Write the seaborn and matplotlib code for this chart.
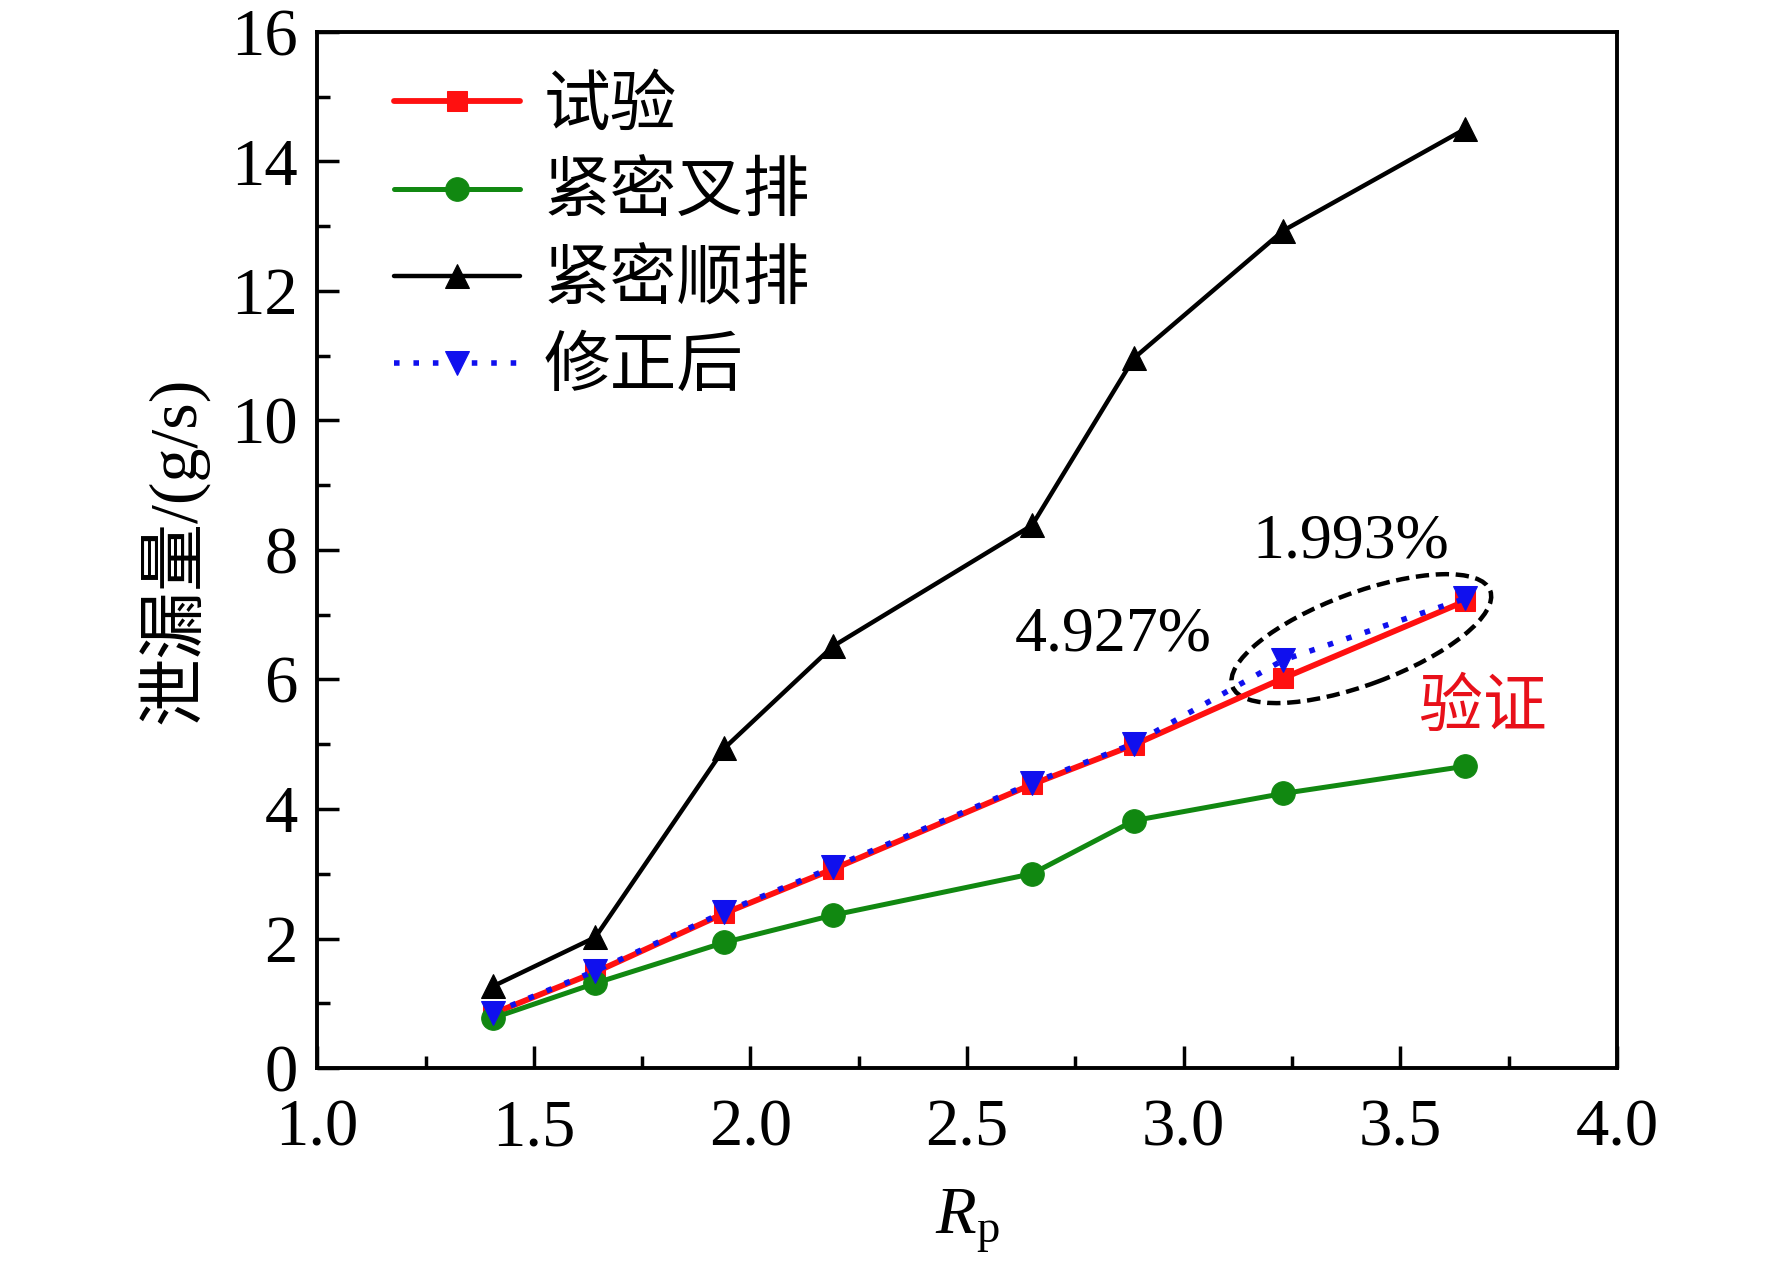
import numpy as np
import pandas as pd
import matplotlib
matplotlib.use('Agg')
import matplotlib.pyplot as plt
import seaborn as sns
from matplotlib.patches import Ellipse
from matplotlib.transforms import ScaledTranslation
from matplotlib.ticker import MultipleLocator

# dados
rp = [1.405, 1.642, 1.94, 2.19, 2.65, 2.885, 3.23, 3.65]
shiyan = [0.84, 1.48, 2.39, 3.07, 4.38, 4.99, 6.02, 7.21]        # 试验
chapai = [0.77, 1.31, 1.94, 2.36, 3.00, 3.82, 4.24, 4.66]        # 紧密叉排
shunpai = [1.26, 2.02, 4.94, 6.51, 8.38, 10.96, 12.93, 14.50]    # 紧密顺排
xiuzheng = [0.85, 1.50, 2.41, 3.10, 4.40, 5.01, 6.30, 7.25]      # 修正后

df = pd.DataFrame({'rp': rp, 'shiyan': shiyan, 'chapai': chapai,
                   'shunpai': shunpai, 'xiuzheng': xiuzheng})

sns.set_style('white')
plt.rcParams['font.family'] = ['Liberation Serif', 'Noto Sans CJK SC']
plt.rcParams['mathtext.fontset'] = 'custom'
plt.rcParams['mathtext.rm'] = 'Liberation Serif'
plt.rcParams['mathtext.it'] = 'Liberation Serif:italic'
plt.rcParams['text.color'] = 'black'
plt.rcParams['axes.labelcolor'] = 'black'
plt.rcParams['xtick.color'] = 'black'
plt.rcParams['ytick.color'] = 'black'

fig = plt.figure(figsize=(17.72, 12.7), dpi=100)
ax = fig.add_axes([0.179, 0.159, 0.7335, 0.816])

sns.lineplot(data=df, x='rp', y='shiyan', ax=ax, color='#ff1010', linewidth=4.2,
             marker='s', markersize=15, markeredgecolor='#ff1010', label='试验')
sns.lineplot(data=df, x='rp', y='chapai', ax=ax, color='#118811', linewidth=3.6,
             marker='o', markersize=17, markeredgecolor='#118811', label='紧密叉排')
sns.lineplot(data=df, x='rp', y='shunpai', ax=ax, color='black', linewidth=3.2,
             marker='^', markersize=17, markeredgecolor='black', label='紧密顺排')
sns.lineplot(data=df, x='rp', y='xiuzheng', ax=ax, color='#1010ee', linewidth=4,
             linestyle=(0, (1, 2.5)), marker='v', markersize=17,
             markeredgecolor='#1010ee', label='修正后')

ax.set_xlim(1.0, 4.0)
ax.set_ylim(0, 16)
ax.xaxis.set_major_locator(MultipleLocator(0.5))
ax.xaxis.set_minor_locator(MultipleLocator(0.25))
ax.yaxis.set_major_locator(MultipleLocator(2))
ax.yaxis.set_minor_locator(MultipleLocator(1))
ax.set_xticks(np.arange(1.0, 4.01, 0.5))
ax.set_xticklabels([f'{v:.1f}' for v in np.arange(1.0, 4.01, 0.5)])
ax.tick_params(which='both', direction='in', width=2.5, labelsize=48,
               bottom=True, left=True, top=False, right=False)
ax.tick_params(which='major', length=16)
ax.tick_params(which='minor', length=9)
ax.tick_params(axis='x', which='major', pad=22)
ax.tick_params(axis='y', which='major', pad=14)
for s in ax.spines.values():
    s.set_linewidth(2.8)
    s.set_color('black')

ax.set_xlabel('$R_\\mathrm{p}$', fontsize=48, labelpad=20)
ax.set_ylabel('泄漏量/(g/s)', fontsize=49, labelpad=16)

leg = ax.legend(loc='upper left', frameon=False, fontsize=48,
                handlelength=1.9, handletextpad=0.35, labelspacing=0.38,
                borderaxespad=0.2, bbox_to_anchor=(0.028, 0.995))

# anotacoes
ax.text(3.386, 8.11, '1.993%', fontsize=46, ha='center', va='center')
ax.text(2.838, 6.68, '4.927%', fontsize=46, ha='center', va='center')
ax.text(3.69, 5.53, '验证', fontsize=46, ha='center', va='center',
        color='#e8101a')

el = Ellipse((0, 0), width=2.75, height=0.92, angle=20.4, fill=False,
             linestyle=(0, (3, 1.5)), linewidth=3.2, edgecolor='black',
             transform=fig.dpi_scale_trans + ScaledTranslation(3.41, 6.63, ax.transData))
ax.add_patch(el)

fig.savefig('out.png', dpi=100)
